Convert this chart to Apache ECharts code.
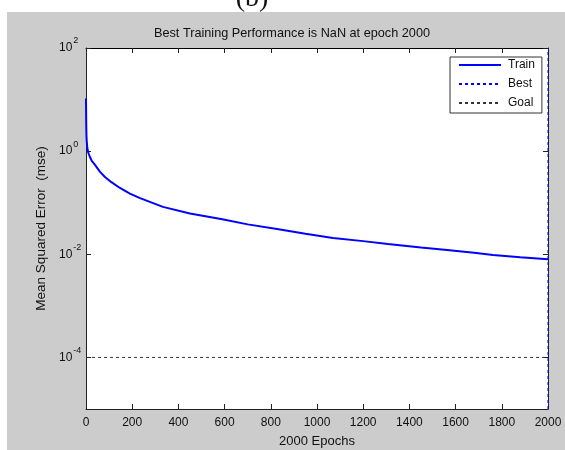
<!DOCTYPE html>
<html>
<head>
<meta charset="utf-8">
<title>Training performance</title>
<script src="https://cdn.jsdelivr.net/npm/echarts@6/dist/echarts.min.js"></script>
<style>
  html, body { margin: 0; padding: 0; background: #ffffff; }
  #chart { width: 565px; height: 450px; }
</style>
</head>
<body>
<div id="chart"></div>
<script>
// Training record: epoch number and mean squared error
const epochs   = [0, 1, 2, 3, 5, 8, 12, 17, 25, 39, 60, 82, 110, 147, 190, 234, 333, 450, 590, 700, 827, 950, 1069, 1200, 1307, 1450, 1563, 1680, 1762, 1880, 2000];
const trainMse = [10.5, 3.5, 2.0, 1.6, 1.25, 1.0, 0.88, 0.77, 0.65, 0.54, 0.40, 0.316, 0.25, 0.193, 0.15, 0.123, 0.083, 0.062, 0.048, 0.038, 0.031, 0.025, 0.0207, 0.018, 0.0158, 0.0135, 0.0121, 0.0107, 0.0097, 0.0088, 0.0080];

const bestEpoch = 2000;
const goalMse = 1e-4;

// Axis ranges and tick positions
const xTicks = [0, 200, 400, 600, 800, 1000, 1200, 1400, 1600, 1800, 2000];
const yMin = 1e-5;
const yMax = 1e2;
const yTicks = [1e-4, 1e-2, 1, 1e2];

const seriesNames = ['Train', 'Best', 'Goal'];
const titleText = 'Best Training Performance is NaN at epoch 2000';
const xName = '2000 Epochs';
const yName = 'Mean Squared Error  (mse)';

const trainData = epochs.map((e, i) => [e, trainMse[i]]);
const bestData = [[bestEpoch, yMin], [bestEpoch, yMax]];
const goalData = [[xTicks[0], goalMse], [xTicks[xTicks.length - 1], goalMse]];

const axisColor = '#222222';
const tickStyle = { show: true, inside: true, length: 5, lineStyle: { color: axisColor, width: 1 } };

function powLabel(v) {
  const e = Math.round(Math.log10(v));
  return '{b|10}{s|' + e + '}';
}

const chart = echarts.init(document.getElementById('chart'), null, { renderer: 'canvas' });

chart.setOption({
  backgroundColor: '#ffffff',
  animation: false,
  textStyle: { fontFamily: 'Liberation Sans, Arial, sans-serif' },
  graphic: [
    { type: 'rect', z: -10, silent: true,
      shape: { x: 7, y: 12, width: 565, height: 450 },
      style: { fill: '#cccccc' } },
    { type: 'text', z: 10, silent: true,
      x: 252, y: -1,
      style: { text: '(b)', font: '28px "Liberation Serif", "DejaVu Serif", serif',
               fill: '#111111', align: 'center', verticalAlign: 'middle' } },
    { type: 'text', z: 10, silent: true,
      x: 292, y: 33,
      style: { text: titleText, font: '12.7px "Liberation Sans", Arial, sans-serif',
               fill: '#111111', align: 'center', verticalAlign: 'middle' } }
  ],
  grid: {
    left: 86, top: 48, right: 17, bottom: 41,
    outerBoundsMode: 'none',
    show: true, backgroundColor: '#ffffff', borderWidth: 0
  },
  legend: {
    orient: 'vertical',
    left: 450, top: 57,
    data: seriesNames,
    itemWidth: 42, itemHeight: 14, itemGap: 7,
    padding: [2, 7, 4, 8],
    backgroundColor: '#ffffff',
    borderColor: '#333333', borderWidth: 1, borderRadius: 0,
    itemStyle: { opacity: 0 },
    lineStyle: { opacity: 1 },
    textStyle: { fontSize: 12, color: '#111111', padding: [0, 0, 0, 2] },
    selectedMode: false
  },
  xAxis: [
    {
      type: 'value', position: 'bottom',
      min: 0, max: 2000, interval: 200,
      name: xName, nameLocation: 'middle', nameGap: 26,
      nameTextStyle: { fontSize: 13, color: '#111111' },
      axisLine: { show: true, onZero: false, lineStyle: { color: axisColor, width: 1 } },
      axisTick: tickStyle,
      axisLabel: { fontSize: 12, color: '#111111', margin: 8, formatter: v => String(v) },
      splitLine: { show: false }
    },
    {
      type: 'value', position: 'top',
      min: 0, max: 2000, interval: 200,
      axisLine: { show: true, onZero: false, lineStyle: { color: '#000000', width: 1 } },
      axisTick: tickStyle,
      axisLabel: { show: false },
      splitLine: { show: false }
    }
  ],
  yAxis: [
    {
      type: 'log', position: 'left', logBase: 10,
      min: yMin, max: yMax,
      name: yName, nameLocation: 'middle', nameGap: 38, nameRotate: 90,
      nameTextStyle: { fontSize: 13.5, color: '#111111' },
      axisLine: { show: true, onZero: false, lineStyle: { color: axisColor, width: 1 } },
      axisTick: Object.assign({ customValues: yTicks }, tickStyle),
      axisLabel: {
        customValues: yTicks,
        formatter: powLabel,
        align: 'left', margin: 27,
        rich: {
          b: { fontSize: 12, color: '#111111' },
          s: { fontSize: 9, color: '#111111', padding: [0, 0, 14, 1] }
        }
      },
      splitLine: { show: false }
    },
    {
      type: 'log', position: 'right', logBase: 10,
      min: yMin, max: yMax,
      axisLine: { show: true, onZero: false, lineStyle: { color: axisColor, width: 1 } },
      axisTick: Object.assign({ customValues: yTicks }, tickStyle),
      axisLabel: { show: false },
      splitLine: { show: false }
    }
  ],
  series: [
    {
      name: seriesNames[0], type: 'line', data: trainData,
      xAxisIndex: 0, yAxisIndex: 0,
      symbol: 'none', smooth: false, z: 5,
      lineStyle: { color: '#0000ff', width: 2 },
      itemStyle: { color: '#0000ff' }
    },
    {
      name: seriesNames[1], type: 'line', data: bestData,
      xAxisIndex: 0, yAxisIndex: 0,
      symbol: 'none', clip: false, z: 6,
      lineStyle: { color: '#0000ff', width: 1, type: [3, 3] },
      itemStyle: { color: '#0000ff' }
    },
    {
      name: seriesNames[2], type: 'line', data: goalData,
      xAxisIndex: 0, yAxisIndex: 0,
      symbol: 'none', z: 4,
      lineStyle: { color: '#333333', width: 1, type: [3, 3] },
      itemStyle: { color: '#333333' }
    }
  ]
});
</script>
</body>
</html>
